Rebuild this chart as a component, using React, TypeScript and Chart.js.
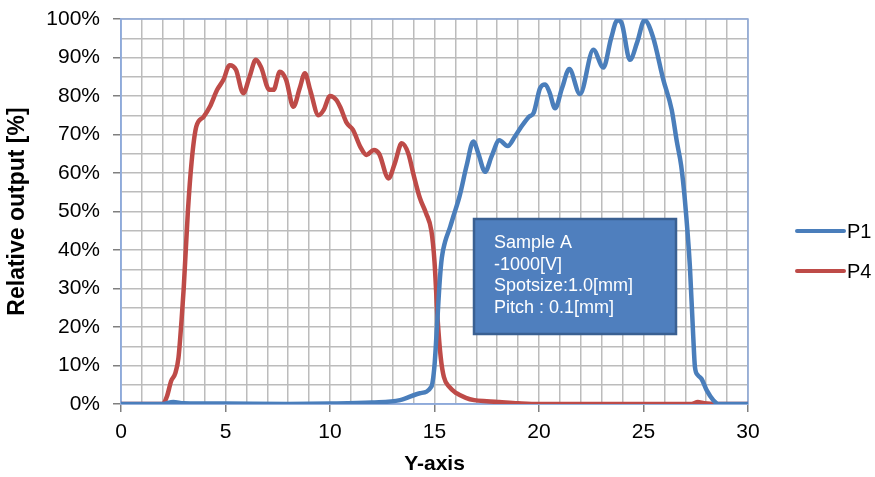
import React, { useEffect, useRef } from "react";
import { Chart, registerables } from "chart.js";

Chart.register(...registerables);

const seriesNames = ["P1", "P4"];
const seriesColors = ["#4a7ebb", "#be4b48"];

const p1X = [0, 2.0, 2.5, 3, 5, 8, 10, 12, 13.35, 14.3, 14.85, 15.0, 15.1, 15.25, 15.35, 15.5, 15.75, 15.9, 16.2, 16.54, 16.86, 17.1, 17.42, 17.73, 18.1, 18.5, 18.85, 19.15, 19.5, 19.75, 20.05, 20.3, 20.5, 20.77, 21.1, 21.45, 21.96, 22.6, 23.08, 23.45, 23.75, 23.95, 24.35, 24.7, 25.05, 25.45, 25.95, 26.35, 26.6, 26.8, 26.98, 27.22, 27.38, 27.46, 27.6, 27.78, 28.02, 28.34, 28.6, 30];
const p1Y = [0, 0, 0.5, 0.2, 0.1, 0, 0.1, 0.4, 1, 2.8, 4.5, 10, 18.4, 32, 38, 42, 46, 48.7, 54, 62, 68.2, 65, 60.3, 64.3, 68.5, 67, 69.5, 72, 74.5, 75.7, 82, 83, 81, 76.8, 82, 87, 80.5, 92, 87.4, 95, 99.7, 99, 89.4, 94, 99.7, 95.4, 84.2, 76.4, 68, 62, 53, 35.7, 17.5, 9.7, 7.5, 6.5, 3.6, 1, 0, 0];

const p4X = [0, 1, 2.0, 2.2, 2.4, 2.6, 2.75, 2.9, 3.0, 3.2, 3.38, 3.6, 3.95, 4.25, 4.6, 4.9, 5.2, 5.5, 5.85, 6.15, 6.45, 6.7, 7.1, 7.3, 7.6, 7.9, 8.25, 8.55, 8.8, 9.05, 9.45, 9.7, 10.0, 10.3, 10.5, 10.8, 11.1, 11.45, 11.75, 12.1, 12.35, 12.8, 13.1, 13.43, 13.75, 14.0, 14.3, 14.6, 14.85, 15.0, 15.15, 15.3, 15.45, 15.7, 16.05, 16.5, 16.9, 17.5, 18.1, 19, 20, 25, 27.3, 27.6, 27.9, 28.5, 30];
const p4Y = [0, 0, 0, 2, 6, 8, 12, 22, 30, 50, 63, 72, 74.6, 77.2, 81.6, 84.2, 88, 86.8, 80.7, 85, 89.4, 87.5, 81.6, 81.6, 86.3, 84.2, 77.2, 82, 85.9, 81.6, 75, 76.4, 80, 79, 77, 73, 71.2, 66.8, 64.7, 66, 65, 58.6, 62.5, 67.7, 65, 59.5, 53.5, 49.5, 45, 37, 22, 12, 7, 4.5, 2.8, 1.6, 1, 0.7, 0.5, 0.2, 0, 0, 0, 0.5, 0.2, 0, 0];

const xMin = 0;
const xMax = 30;
const xStep = 1;
const xLabelEvery = 5;
const yMin = 0;
const yMax = 100;
const yStep = 5;
const yLabelEvery = 10;

const noteLines = ["Sample A", "-1000[V]", "Spotsize:1.0[mm]", "Pitch : 0.1[mm]"];
const xTitle = "Y-axis";
const yTitle = "Relative output [%]";

const FONT = "'Liberation Sans', Arial, Helvetica, sans-serif";

function toPoints(xs: number[], ys: number[]) {
  return xs.map((x, i) => ({ x, y: ys[i] }));
}

const frameAndNotePlugin = {
  id: "frameAndNote",
  beforeDatasetsDraw(chart: any) {
    const { ctx, chartArea: ca } = chart;
    ctx.save();
    ctx.strokeStyle = "#8eaadb";
    ctx.lineWidth = 1.5;
    ctx.strokeRect(ca.left, ca.top, ca.right - ca.left, ca.bottom - ca.top);
    ctx.restore();
  },
  afterDatasetsDraw(chart: any) {
    const { ctx, chartArea: ca } = chart;
    const bx = ca.left + 353;
    const by = ca.top + 200;
    const bw = 202;
    const bh = 115;
    ctx.save();
    ctx.fillStyle = "#4f7fbe";
    ctx.fillRect(bx, by, bw, bh);
    ctx.strokeStyle = "#3a6092";
    ctx.lineWidth = 2.5;
    ctx.strokeRect(bx, by, bw, bh);
    ctx.fillStyle = "#ffffff";
    ctx.font = `18px ${FONT}`;
    ctx.textBaseline = "middle";
    ctx.textAlign = "left";
    noteLines.forEach((t, i) => {
      ctx.fillText(t, bx + 20, by + 24 + i * 21.7);
    });
    ctx.restore();
  },
  afterDraw(chart: any) {
    const { ctx, chartArea: ca } = chart;
    ctx.save();
    chart.data.datasets.forEach((ds: any, i: number) => {
      const y = ca.top + 212 + i * 40;
      const x0 = ca.right + 49;
      ctx.strokeStyle = ds.borderColor;
      ctx.lineWidth = 4;
      ctx.lineCap = "round";
      ctx.beginPath();
      ctx.moveTo(x0, y);
      ctx.lineTo(x0 + 47, y);
      ctx.stroke();
      ctx.fillStyle = "#000000";
      ctx.font = `20px ${FONT}`;
      ctx.textBaseline = "middle";
      ctx.textAlign = "left";
      ctx.fillText(ds.label, x0 + 50, y + 1);
    });
    ctx.restore();
  },
};

export default function App() {
  const ref = useRef<HTMLCanvasElement | null>(null);

  useEffect(() => {
    if (!ref.current) return;
    const chart = new Chart(ref.current, {
      type: "line",
      data: {
        datasets: [
          {
            label: seriesNames[0],
            data: toPoints(p1X, p1Y),
            borderColor: seriesColors[0],
            backgroundColor: seriesColors[0],
            borderWidth: 4.5,
            pointRadius: 0,
            cubicInterpolationMode: "monotone",
          },
          {
            label: seriesNames[1],
            data: toPoints(p4X, p4Y),
            borderColor: seriesColors[1],
            backgroundColor: seriesColors[1],
            borderWidth: 4.5,
            pointRadius: 0,
            cubicInterpolationMode: "monotone",
          },
        ],
      },
      options: {
        responsive: false,
        animation: false,
        devicePixelRatio: 1,
        layout: { padding: { left: 0, top: 19, right: 127, bottom: 0 } },
        plugins: {
          legend: { display: false },
          tooltip: { enabled: false },
        },
        scales: {
          x: {
            type: "linear",
            min: xMin,
            max: xMax,
            afterFit(scale: any) {
              scale.height = 73;
              scale.paddingLeft = 0;
              scale.paddingRight = 0;
            },
            ticks: {
              stepSize: xStep,
              autoSkip: false,
              maxRotation: 0,
              padding: 8,
              color: "#000000",
              font: { family: FONT, size: 21 },
              callback: (v: any) => (Number(v) % xLabelEvery === 0 ? String(v) : ""),
            },
            grid: {
              color: "#bcbcbc",
              lineWidth: 1.5,
              tickLength: 8,
              tickColor: (c: any) => (c.tick && c.tick.value % xLabelEvery === 0 ? "#7f7f7f" : "rgba(0,0,0,0)"),
            },
            border: { color: "#8eaadb", width: 1.5 },
            title: {
              display: true,
              text: xTitle,
              color: "#000000",
              font: { family: FONT, size: 21, weight: "bold" },
              padding: { top: 0, bottom: 0 },
            },
          },
          y: {
            min: yMin,
            max: yMax,
            afterFit(scale: any) {
              scale.width = 121;
              scale.paddingTop = 0;
              scale.paddingBottom = 0;
            },
            ticks: {
              stepSize: yStep,
              autoSkip: false,
              padding: 13,
              color: "#000000",
              font: { family: FONT, size: 21 },
              callback: (v: any) => (Number(v) % yLabelEvery === 0 ? `${v}%` : ""),
            },
            grid: {
              color: "#bcbcbc",
              lineWidth: 1.5,
              tickLength: 8,
              tickColor: (c: any) => (c.tick && c.tick.value % yLabelEvery === 0 ? "#7f7f7f" : "rgba(0,0,0,0)"),
            },
            border: { color: "#8eaadb", width: 1.5 },
            title: {
              display: true,
              text: yTitle,
              color: "#000000",
              font: { family: FONT, size: 23, weight: "bold" },
              padding: { top: 4, bottom: 0 },
            },
          },
        },
      },
      plugins: [frameAndNotePlugin],
    } as any);
    return () => chart.destroy();
  }, []);

  return (
    <div style={{ position: "fixed", left: 0, top: 0, width: 875, height: 477, background: "#ffffff" }}>
      <canvas ref={ref} width={875} height={477} />
    </div>
  );
}
